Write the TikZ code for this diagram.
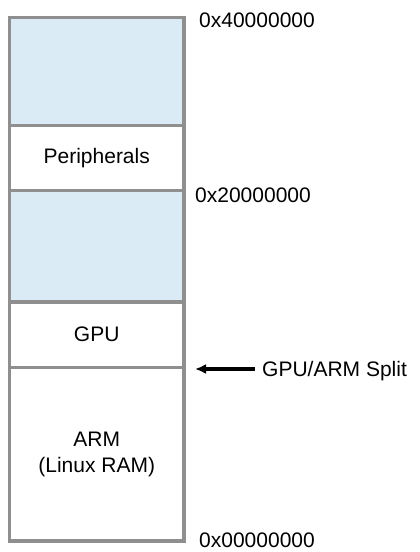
\documentclass[tikz,border=0pt]{standalone}
\usepackage{fontspec}
\setmainfont{Liberation Sans}
\usetikzlibrary{arrows.meta}
\definecolor{boxgray}{HTML}{8F8F8F}
\definecolor{memblue}{HTML}{DAEBF6}
\begin{document}
\begin{tikzpicture}[x=1pt,y=-1pt,
  region/.style={draw=boxgray, line width=3.5pt, rectangle, inner sep=0pt,
    minimum width=174.5pt, align=center, font=\fontsize{21}{26}\selectfont},
  freeregion/.style={region, fill=memblue},
  addr/.style={anchor=base west, inner sep=0pt, font=\fontsize{21}{26}\selectfont},
  pointer/.style={line width=3.5pt, -{Latex[length=11pt,width=10pt]}}]
\useasboundingbox (0,0) rectangle (420,552);
\fill[white] (0,0) rectangle (420,552);
\node[freeregion, minimum height=108pt] (top) at (96.75,71.5) {};
\node[region, minimum height=65pt] (periph) at (96.75,158) {Peripherals};
\node[freeregion, minimum height=111.5pt] (mid) at (96.75,246.25) {};
\node[region, minimum height=65.5pt] (gpu) at (96.75,334.75) {GPU};
\node[region, minimum height=173.5pt] (arm) at (96.75,454.25) {ARM\\(Linux RAM)};
\node[addr] (a4) at (199,27) {0x40000000};
\node[addr] (a2) at (195,202) {0x20000000};
\node[addr] (a0) at (199,547.5) {0x00000000};
\node[addr] (split) at (262,376.5) {GPU/ARM Split};
\coordinate (tail) at (255,369);
\coordinate (tip) at (195,369);
\draw[pointer] (tail) -- (tip);
\end{tikzpicture}
\end{document}
